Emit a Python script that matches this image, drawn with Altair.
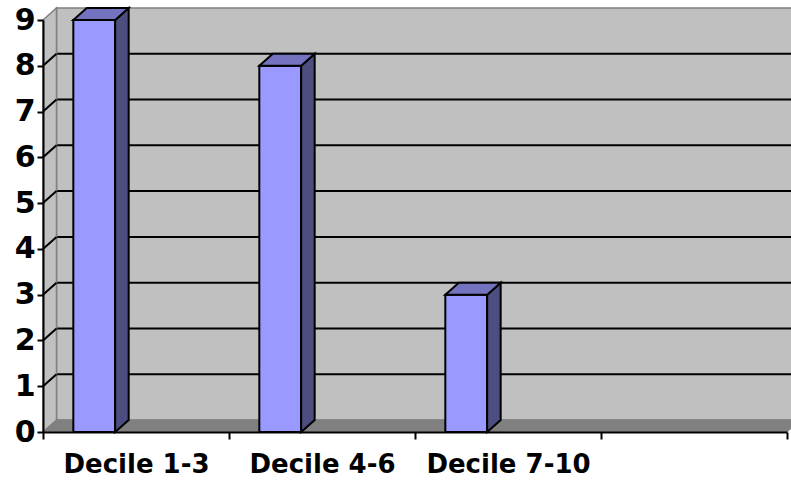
import json
import altair as alt
import pandas as pd

# ---- data ----
categories = ["Decile 1-3", "Decile 4-6", "Decile 7-10"]
values = [9, 8, 3]
y_ticks = [0, 1, 2, 3, 4, 5, 6, 7, 8, 9]
x_slots = [0, 1, 2, 3, 4]

# ---- geometry/style constants (data units) ----
NSLOT = 4
YMAX = 9
PLOT_W = 744
PLOT_H = 412
DX = 13.5 / (PLOT_W / NSLOT)   # depth offset, x
DY = 12 / (PLOT_H / YMAX)      # depth offset, y
B0, B1 = 0.163, 0.388          # bar front face within slot

FRONT = "#9999ff"
TOP = "#7373c0"
SIDE = "#4d4d80"
WALL = "#c0c0c0"
FLOOR = "#808080"
FONT = "DejaVu Sans"

xs = alt.Scale(domain=[0, NSLOT], range=[0, PLOT_W], nice=False, zero=False)
ys = alt.Scale(domain=[0, YMAX], range=[420, 8], nice=False, zero=False)

label_arr = json.dumps(categories)
xaxis = alt.Axis(values=x_slots, title=None, grid=False,
                 labelExpr=f"datum.value < {len(categories)} ? {label_arr}[datum.value] : ''",
                 labelOffset=PLOT_W / NSLOT / 2, labelAlign="center", labelFlush=False,
                 labelOverlap=False, labelBound=False,
                 labelFont=FONT, labelFontSize=26, labelFontWeight="bold", labelColor="black",
                 labelPadding=12, tickSize=7, tickColor="black", tickWidth=2,
                 domainColor="black", domainWidth=2, zindex=1)
yaxis = alt.Axis(values=y_ticks, title=None, grid=False, format="d",
                 labelFlush=False, labelOverlap=False, labelBound=False,
                 labelFont=FONT, labelFontSize=30, labelFontWeight="bold", labelColor="black",
                 labelPadding=2, tickSize=6, tickColor="black", tickWidth=2,
                 domainColor="black", domainWidth=2, zindex=1)


def X(f):
    return alt.X(f, type="quantitative", scale=xs, axis=xaxis)


def Y(f):
    return alt.Y(f, type="quantitative", scale=ys, axis=yaxis)


# ---- tables built from the arrays ----
bars = pd.DataFrame({"cat": categories, "v": values})
bars["i"] = range(len(categories))
bars["x0"] = bars["i"] + B0
bars["x1"] = bars["i"] + B1
bars["zero"] = 0.0

top_rows, side_rows = [], []
for _, r in bars.iterrows():
    top_rows.append({"bar": r.i, "y": r.v, "xa": r.x0, "xb": r.x1})
    top_rows.append({"bar": r.i, "y": r.v + DY, "xa": r.x0 + DX, "xb": r.x1 + DX})
    side_rows.append({"bar": r.i, "x": r.x1, "ya": 0.0, "yb": r.v})
    side_rows.append({"bar": r.i, "x": r.x1 + DX, "ya": DY, "yb": r.v + DY})
tops = pd.DataFrame(top_rows)
sides = pd.DataFrame(side_rows)

back = pd.DataFrame({"xa": [DX], "xb": [NSLOT + DX], "ya": [DY], "yb": [YMAX + DY]})
grid = pd.DataFrame({"v": y_ticks[1:-1]})
grid["yb"] = grid["v"] + DY
grid["xa"] = DX
grid["xb"] = NSLOT + DX
grid["x0"] = 0.0
floor = pd.DataFrame({"y": [0.0, DY], "xa": [0.0, DX], "xb": [NSLOT, NSLOT + DX]})
sidewall = pd.DataFrame({"x": [0.0, DX], "ya": [0.0, DY], "yb": [YMAX, YMAX + DY]})

# ---- layers ----
back_l = alt.Chart(back).mark_rect(fill=WALL, stroke=FLOOR, strokeWidth=1.5).encode(
    x=X("xa"), x2="xb", y=Y("ya"), y2="yb")
grid_l = alt.Chart(grid).mark_rule(color="black", strokeWidth=2).encode(
    x=X("xa"), x2="xb", y=Y("yb"))
side_l = alt.Chart(sidewall).mark_area(orient="vertical", fill=WALL, stroke=FLOOR,
                                       strokeWidth=1.5).encode(
    x=X("x"), y=Y("yb"), y2="ya")
diag_l = alt.Chart(grid).mark_rule(color="black", strokeWidth=2).encode(
    x=X("x0"), x2="xa", y=Y("v"), y2="yb")
floor_l = alt.Chart(floor).mark_area(orient="horizontal", fill=FLOOR, stroke=FLOOR,
                                     strokeWidth=1).encode(
    y=Y("y"), x=X("xa"), x2="xb")
front_l = alt.Chart(bars).mark_rect(fill=FRONT, stroke="black", strokeWidth=2).encode(
    x=X("x0"), x2="x1", y=Y("v"), y2="zero")
sidef_l = alt.Chart(sides).mark_area(orient="vertical", fill=SIDE, stroke="black",
                                     strokeWidth=2, strokeJoin="miter").encode(
    x=X("x"), y=Y("yb"), y2="ya", detail="bar:N")
topf_l = alt.Chart(tops).mark_area(orient="horizontal", fill=TOP, stroke="black",
                                   strokeWidth=2, strokeJoin="miter").encode(
    y=Y("y"), x=X("xa"), x2="xb", detail="bar:N")

chart = alt.layer(back_l, grid_l, side_l, diag_l, floor_l, front_l, sidef_l, topf_l).properties(
    width=748, height=420,
    autosize=alt.AutoSizeParams(type="none"),
    padding={"left": 43, "top": 12, "right": 0, "bottom": 53},
    background="white",
).configure_view(stroke=None)

chart.save("out.html", embed_options={"renderer": "svg", "actions": False})
